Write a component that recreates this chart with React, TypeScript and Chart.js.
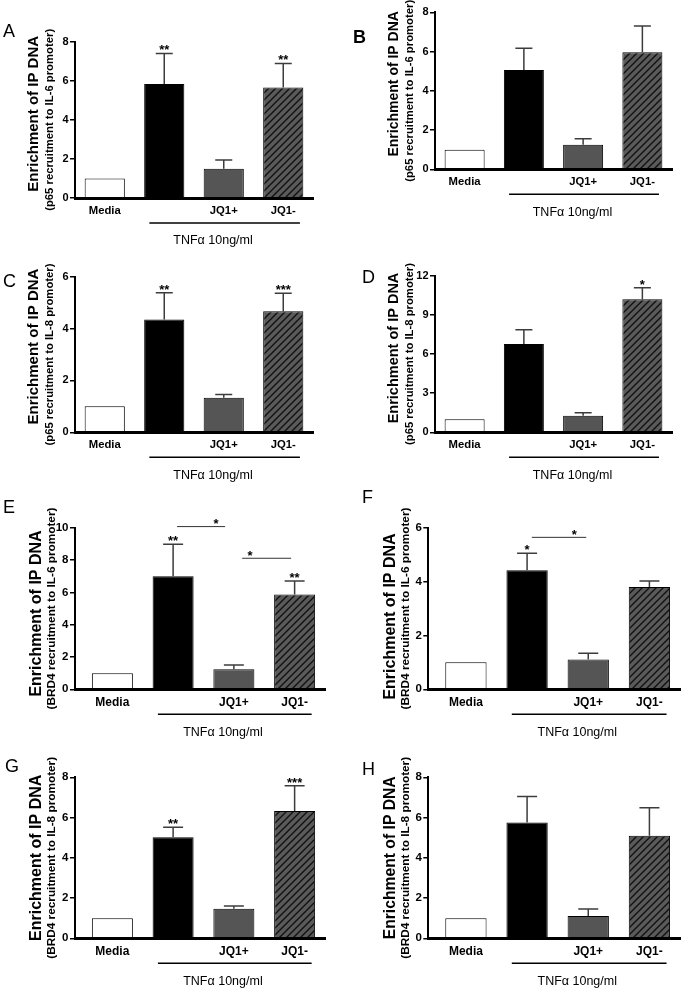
import React, { useEffect, useRef } from "react";
import { Chart, registerables } from "chart.js";

Chart.register(...registerables);

// ---------- data ----------
const categories = ["Media", "", "JQ1+", "JQ1-"];
const titleMain = "Enrichment of IP DNA";
const subIL6p65 = "(p65 recruitment to IL-6 promoter)";
const subIL8p65 = "(p65 recruitment to IL-8 promoter)";
const subIL6BRD4 = "(BRD4 recruitment to IL-6 promoter)";
const subIL8BRD4 = "(BRD4 recruitment to IL-8 promoter)";
const treatmentLabel = "TNFα 10ng/ml";
const treatmentSpan = [0.75, 3.28];
const treatmentTextAt = 1.82;

const meanA = [1, 5.83, 1.5, 5.65];
const errA = [0, 1.57, 0.44, 1.24];
const starsA = ["", "**", "", "**"];
const ticksA = [0, 2, 4, 6, 8];

const meanB = [1, 5.06, 1.25, 5.96];
const errB = [0, 1.11, 0.31, 1.34];
const starsB = ["", "", "", ""];
const ticksB = [0, 2, 4, 6, 8];

const meanC = [1, 4.35, 1.33, 4.67];
const errC = [0, 1.03, 0.13, 0.69];
const starsC = ["", "**", "", "***"];
const ticksC = [0, 2, 4, 6];

const meanD = [1, 6.76, 1.27, 10.19];
const errD = [0, 1.1, 0.23, 0.88];
const starsD = ["", "", "", "*"];
const ticksD = [0, 3, 6, 9, 12];

const meanE = [1, 7.0, 1.24, 5.87];
const errE = [0, 1.97, 0.26, 0.83];
const starsE = ["", "**", "", "**"];
const ticksE = [0, 2, 4, 6, 8, 10];
const compE = [
  { from: 1.065, to: 1.856, level: 10.1, starAt: 1.708, text: "*" },
  { from: 2.136, to: 2.943, level: 8.14, starAt: 2.268, text: "*" },
];

const meanF = [1, 4.42, 1.11, 3.8];
const errF = [0, 0.63, 0.23, 0.22];
const starsF = ["", "*", "", ""];
const ticksF = [0, 2, 4, 6];
const compF = [{ from: 1.077, to: 1.967, level: 5.66, starAt: 1.77, text: "*" }];

const meanG = [1, 5.02, 1.47, 6.33];
const errG = [0, 0.5, 0.13, 1.25];
const starsG = ["", "**", "", "***"];
const ticksG = [0, 2, 4, 6, 8];

const meanH = [1, 5.76, 1.11, 5.1];
const errH = [0, 1.28, 0.35, 1.39];
const starsH = ["", "", "", ""];
const ticksH = [0, 2, 4, 6, 8];

// ---------- layout ----------
const FONT = "'Liberation Sans', Arial, Helvetica, sans-serif";

const panels = [
  { letter: "A", bold: false, lx: 3, ly: 37, mean: meanA, err: errA, stars: starsA, ticks: ticksA, sub: subIL6p65, comps: [],
    axisX: 75, rightX: 313, topY: 41.7, bottomY: 198, xMin: -0.5, big: false, t1Size: 15, t1dy: -6 },
  { letter: "B", bold: true, lx: 353, ly: 43, mean: meanB, err: errB, stars: starsB, ticks: ticksB, sub: subIL6p65, comps: [],
    axisX: 435, rightX: 672, topY: 12.3, bottomY: 169.3, xMin: -0.5, big: false, t1Size: 14, t1dy: -7 },
  { letter: "C", bold: false, lx: 3, ly: 287, mean: meanC, err: errC, stars: starsC, ticks: ticksC, sub: subIL8p65, comps: [],
    axisX: 75, rightX: 313, topY: 276.7, bottomY: 432.3, xMin: -0.5, big: false, t1Size: 15, t1dy: -8 },
  { letter: "D", bold: false, lx: 362, ly: 283, mean: meanD, err: errD, stars: starsD, ticks: ticksD, sub: subIL8p65, comps: [],
    axisX: 435, rightX: 672, topY: 275.7, bottomY: 432.3, xMin: -0.5, big: false, t1Size: 14.5, t1dy: -6 },
  { letter: "E", bold: false, lx: 3, ly: 513, mean: meanE, err: errE, stars: starsE, ticks: ticksE, sub: subIL6BRD4, comps: compE,
    axisX: 75, rightX: 325, topY: 527.7, bottomY: 689.3, xMin: -0.615, big: true, t1Size: 16, t1dy: 5 },
  { letter: "F", bold: false, lx: 362, ly: 503, mean: meanF, err: errF, stars: starsF, ticks: ticksF, sub: subIL6BRD4, comps: compF,
    axisX: 428.3, rightX: 680, topY: 527.7, bottomY: 689.3, xMin: -0.615, big: true, t1Size: 16, t1dy: 8 },
  { letter: "G", bold: false, lx: 5, ly: 772, mean: meanG, err: errG, stars: starsG, ticks: ticksG, sub: subIL8BRD4, comps: [],
    axisX: 75, rightX: 325, topY: 777.3, bottomY: 938.3, xMin: -0.615, big: true, t1Size: 16, t1dy: 0 },
  { letter: "H", bold: false, lx: 362, ly: 775, mean: meanH, err: errH, stars: starsH, ticks: ticksH, sub: subIL8BRD4, comps: [],
    axisX: 428.3, rightX: 680, topY: 777.3, bottomY: 938.3, xMin: -0.615, big: true, t1Size: 15.7, t1dy: 0 },
];

function makeHatch(): CanvasPattern | string {
  const c = document.createElement("canvas");
  const s = 7;
  c.width = s;
  c.height = s;
  const g = c.getContext("2d");
  if (!g) return "#555";
  g.fillStyle = "#5a5a5a";
  g.fillRect(0, 0, s, s);
  g.strokeStyle = "#111";
  g.lineWidth = 1.4;
  g.beginPath();
  g.moveTo(-1, s + 1);
  g.lineTo(s + 1, -1);
  g.moveTo(-2, 2);
  g.lineTo(2, -2);
  g.moveTo(s - 2, s + 2);
  g.lineTo(s + 2, s - 2);
  g.stroke();
  const pat = g.createPattern(c, "repeat");
  return pat || "#555";
}

function Panel({ p }: { p: any }) {
  const ref = useRef<HTMLCanvasElement>(null);
  const cl = p.axisX < 340 ? 0 : 340;
  const cw = cl === 0 ? 340 : 341;
  const ct = Math.max(0, Math.floor(p.topY - 50));
  const cb = Math.min(991, Math.ceil(p.bottomY + 60));
  const ch = cb - ct;

  useEffect(() => {
    const canvas = ref.current;
    if (!canvas) return;
    const YW = 40;
    const XH = 40;
    const big = p.big;
    const tickFont = { family: FONT, size: big ? 11.5 : 11, weight: "bold" as const };
    const catFont = { family: FONT, size: big ? 12 : 11.3, weight: "bold" as const };
    const capHalf = big ? 10 : 8.5;

    const annot = {
      id: "annot",
      afterDatasetsDraw(chart: any) {
        const ctx = chart.ctx;
        const xs = chart.scales.x;
        const ys = chart.scales.y;
        ctx.save();
        // error bars
        ctx.strokeStyle = "#3c3c3c";
        ctx.lineWidth = 1.5;
        p.mean.forEach((m: number, i: number) => {
          const e = p.err[i];
          if (!e) return;
          const x = xs.getPixelForValue(i);
          const y0 = ys.getPixelForValue(m);
          const y1 = ys.getPixelForValue(m + e);
          ctx.beginPath();
          ctx.moveTo(x, y0);
          ctx.lineTo(x, y1);
          ctx.moveTo(x - capHalf, y1);
          ctx.lineTo(x + capHalf, y1);
          ctx.stroke();
        });
        // stars
        ctx.fillStyle = "#000";
        ctx.font = `bold 13px ${FONT}`;
        ctx.textAlign = "center";
        ctx.textBaseline = "alphabetic";
        p.stars.forEach((s: string, i: number) => {
          if (!s) return;
          const x = xs.getPixelForValue(i);
          const y1 = ys.getPixelForValue(p.mean[i] + p.err[i]);
          ctx.fillText(s, x, y1 + 1);
        });
        // comparison brackets
        p.comps.forEach((c: any) => {
          const y = ys.getPixelForValue(c.level);
          ctx.strokeStyle = "#333";
          ctx.lineWidth = 1;
          ctx.beginPath();
          ctx.moveTo(xs.getPixelForValue(c.from), y + 0.5);
          ctx.lineTo(xs.getPixelForValue(c.to), y + 0.5);
          ctx.stroke();
          ctx.fillText(c.text, xs.getPixelForValue(c.starAt), y + 2);
        });
        ctx.restore();
      },
      afterDraw(chart: any) {
        const ctx = chart.ctx;
        const xs = chart.scales.x;
        const ca = chart.chartArea;
        ctx.save();
        // treatment bracket
        const by = ca.bottom + 25;
        ctx.strokeStyle = "#000";
        ctx.lineWidth = 1.5;
        ctx.beginPath();
        ctx.moveTo(xs.getPixelForValue(treatmentSpan[0]), by);
        ctx.lineTo(xs.getPixelForValue(treatmentSpan[1]), by);
        ctx.stroke();
        ctx.fillStyle = "#000";
        ctx.font = `12.5px ${FONT}`;
        ctx.textAlign = "center";
        ctx.textBaseline = "middle";
        ctx.fillText(treatmentLabel, xs.getPixelForValue(treatmentTextAt), ca.bottom + 43);
        // y titles
        const mid = (ca.top + ca.bottom) / 2;
        ctx.save();
        ctx.translate(ca.left - (big ? 38 : 41), mid + p.t1dy);
        ctx.rotate(-Math.PI / 2);
        ctx.font = `bold ${p.t1Size}px ${FONT}`;
        ctx.fillText(titleMain, 0, 0);
        ctx.restore();
        ctx.save();
        ctx.translate(ca.left - (big ? 23 : 25), mid);
        ctx.rotate(-Math.PI / 2);
        ctx.font = `bold ${big ? 11.8 : 11.3}px ${FONT}`;
        ctx.fillText(p.sub, 0, 0);
        ctx.restore();
        // panel letter
        ctx.textAlign = "left";
        ctx.textBaseline = "alphabetic";
        ctx.font = `${p.bold ? "bold " : ""}18px ${FONT}`;
        ctx.fillText(p.letter, p.lx - cl, p.ly - ct);
        ctx.restore();
      },
    };

    const hatch = makeHatch();
    const chart = new Chart(canvas, {
      type: "bar",
      data: {
        datasets: [
          {
            data: p.mean.map((v: number, i: number) => ({ x: i, y: v })),
            backgroundColor: ["#ffffff", "#000000", "#555555", hatch as any],
            borderColor: "#000",
            borderWidth: 1,
            barPercentage: 0.675,
            categoryPercentage: 1,
          },
        ],
      },
      options: {
        animation: false,
        responsive: false,
        devicePixelRatio: 1,
        events: [],
        layout: {
          padding: {
            left: p.axisX - cl - YW,
            right: cl + cw - p.rightX,
            top: p.topY - ct,
            bottom: ct + ch - p.bottomY - XH,
          },
        },
        plugins: { legend: { display: false }, tooltip: { enabled: false }, title: { display: false } },
        scales: {
          x: {
            type: "linear",
            offset: false,
            min: p.xMin,
            max: 3.5,
            afterFit: (s: any) => {
              s.height = XH;
            },
            afterBuildTicks: (s: any) => {
              s.ticks = [0, 1, 2, 3].map((v) => ({ value: v }));
            },
            ticks: {
              autoSkip: false,
              maxRotation: 0,
              padding: 6,
              color: "#000",
              font: catFont,
              callback: (_v: any, i: number) => categories[i],
            },
            grid: { display: false, drawTicks: false, offset: false },
            border: { display: true, color: "#000", width: 3, z: 2 },
          },
          y: {
            type: "linear",
            min: 0,
            max: p.ticks[p.ticks.length - 1],
            afterFit: (s: any) => {
              s.width = YW;
            },
            afterBuildTicks: (s: any) => {
              s.ticks = p.ticks.map((v: number) => ({ value: v }));
            },
            ticks: { padding: 1.5, color: "#000", font: tickFont },
            grid: { drawOnChartArea: false, drawTicks: true, tickLength: 5, color: "#000", lineWidth: 1.5 },
            border: { display: true, color: "#000", width: 2, z: 2 },
          },
        },
      },
      plugins: [annot],
    } as any);
    return () => chart.destroy();
  }, []);

  return (
    <canvas
      ref={ref}
      width={cw}
      height={ch}
      style={{ position: "absolute", left: cl, top: ct, width: cw, height: ch }}
    />
  );
}

export default function App() {
  return (
    <div
      style={{
        position: "absolute",
        left: 0,
        top: 0,
        width: 681,
        height: 991,
        overflow: "hidden",
        background: "#fff",
      }}
    >
      {panels.map((p) => (
        <Panel key={p.letter} p={p} />
      ))}
    </div>
  );
}
